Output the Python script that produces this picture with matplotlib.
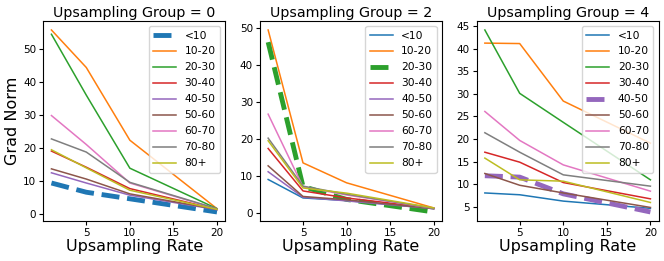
import matplotlib
matplotlib.use("Agg")
import matplotlib.pyplot as plt

rates = [1, 5, 10, 20]
labels = ["<10", "10-20", "20-30", "30-40", "40-50", "50-60", "60-70", "70-80", "80+"]
groups = [0, 2, 4]
highlight = [0, 2, 4]  # index of highlighted series in each panel

g0 = [
    [9.3, 6.5, 4.5, 0.5],
    [55.8, 44.4, 22.3, 1.5],
    [54.5, 36.0, 13.8, 1.5],
    [19.0, 14.1, 7.6, 1.3],
    [12.4, 9.3, 5.6, 1.2],
    [13.6, 10.5, 6.0, 1.3],
    [29.8, 21.0, 9.3, 1.4],
    [22.7, 18.7, 9.5, 1.5],
    [19.4, 13.9, 7.1, 1.3],
]
g2 = [
    [9.0, 4.0, 3.3, 1.1],
    [49.5, 13.5, 8.1, 1.3],
    [46.2, 7.1, 3.6, 0.2],
    [17.4, 5.9, 4.0, 1.2],
    [11.1, 4.2, 3.2, 1.1],
    [12.7, 4.4, 3.5, 1.1],
    [26.7, 7.0, 4.8, 1.2],
    [20.2, 7.2, 5.0, 1.2],
    [19.5, 6.7, 5.3, 1.3],
]
g4 = [
    [8.1, 7.7, 6.3, 4.7],
    [41.2, 41.1, 28.4, 19.1],
    [44.1, 30.1, 23.7, 11.0],
    [17.1, 14.9, 10.4, 6.8],
    [11.9, 11.6, 7.9, 3.9],
    [12.4, 9.8, 8.1, 4.9],
    [26.1, 19.7, 14.3, 8.5],
    [21.4, 17.1, 12.1, 9.6],
    [15.8, 11.0, 10.7, 6.0],
]
data = [g0, g2, g4]

colors = plt.rcParams['axes.prop_cycle'].by_key()['color']

fig, axes = plt.subplots(1, 3, figsize=(6.64, 2.61), dpi=100)
fig.subplots_adjust(left=0.065, right=0.992, bottom=0.153, top=0.92, wspace=0.19)

for ax, g, series, hi in zip(axes, groups, data, highlight):
    for i, (lab, vals) in enumerate(zip(labels, series)):
        if i == hi:
            ax.plot(rates, vals, color=colors[i], lw=3.5, ls='--', label=lab)
        else:
            ax.plot(rates, vals, color=colors[i], lw=1.1, label=lab)
    ax.set_title(f"Upsampling Group = {g}", fontsize=10.3, pad=3)
    ax.set_xlabel("Upsampling Rate", fontsize=11.5, labelpad=1)
    ax.set_xticks([5, 10, 15, 20])
    ax.tick_params(labelsize=7.5, length=3, pad=2)
    ax.legend(loc='upper right', fontsize=7.7, labelspacing=0.56,
              handlelength=2.15, borderpad=0.4, handletextpad=0.8)
axes[0].set_ylabel("Grad Norm", fontsize=11.5, labelpad=2)

fig.savefig("out.png", dpi=100)
